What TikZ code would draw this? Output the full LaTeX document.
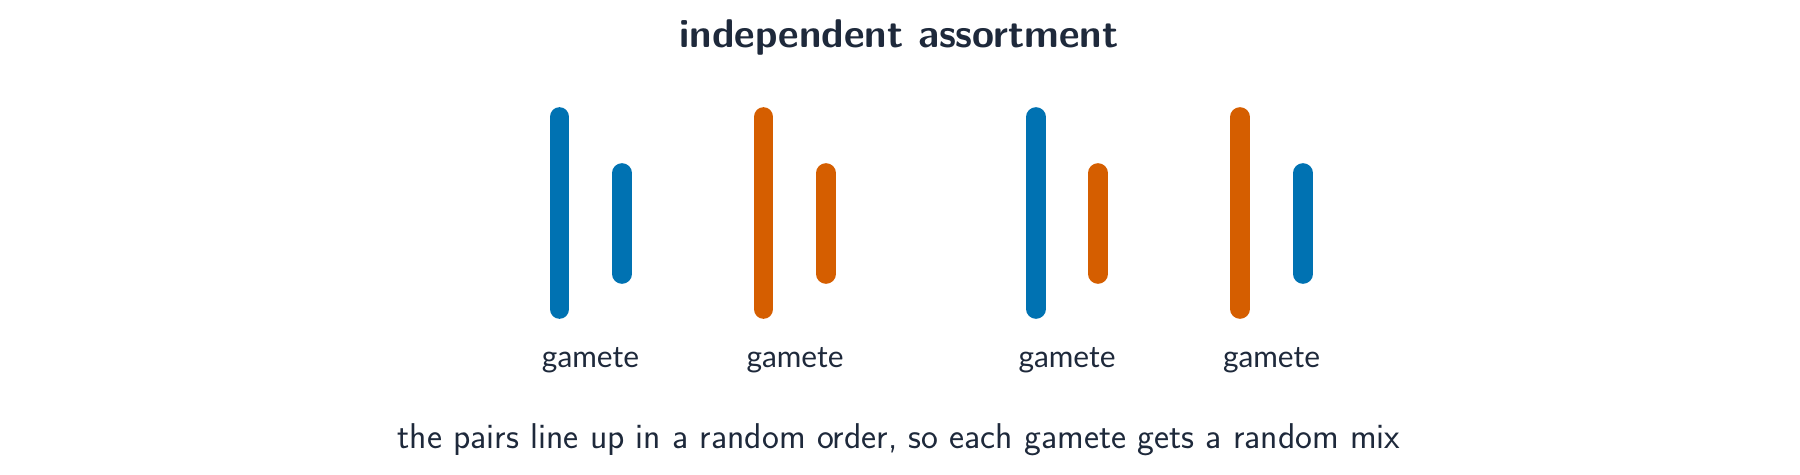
\documentclass[tikz,border=0pt]{standalone}
\usepackage{fontspec}
\usepackage{xcolor}
\usepackage{tikz}
\newfontfamily\gametefont{Lato}
\definecolor{chromblue}{HTML}{0072B2}
\definecolor{chromorange}{HTML}{D55E00}
\definecolor{inkdark}{HTML}{1E293B}

\begin{document}
\begin{tikzpicture}[
  x=0.02cm, y=-0.02cm,
  chrom/.style={line width=11.2pt, line cap=round},
  title/.style={anchor=base, inner sep=0pt, text=inkdark,
    font=\sffamily\bfseries\fontsize{22.8}{27}\selectfont},
  gamete/.style={anchor=base, inner sep=0pt, text=inkdark,
    font=\gametefont\fontsize{17}{20}\selectfont},
  caption/.style={anchor=base, inner sep=0pt, text=inkdark,
    font=\sffamily\fontsize{20.4}{24}\selectfont}
]
  \useasboundingbox (0,0) rectangle (1800,474);
  \node[title] (head) at (899,47) {independent assortment};
  % gamete 1
  \draw[chrom, chromblue] (559.5,117) -- (559.5,309);
  \draw[chrom, chromblue] (622,173) -- (622,274);
  \node[gamete] (g1) at (590.5,367) {gamete};
  % gamete 2
  \draw[chrom, chromorange] (763.5,117) -- (763.5,309);
  \draw[chrom, chromorange] (826,173) -- (826,274);
  \node[gamete] (g2) at (795,367) {gamete};
  % gamete 3
  \draw[chrom, chromblue] (1036,117) -- (1036,309);
  \draw[chrom, chromorange] (1098,173) -- (1098,274);
  \node[gamete] (g3) at (1067,367) {gamete};
  % gamete 4
  \draw[chrom, chromorange] (1240,117) -- (1240,309);
  \draw[chrom, chromblue] (1303,173) -- (1303,274);
  \node[gamete] (g4) at (1271.5,367) {gamete};
  \node[caption] (note) at (899,448)
    {the pairs line up in a random order, so each gamete gets a random mix};
\end{tikzpicture}
\end{document}
